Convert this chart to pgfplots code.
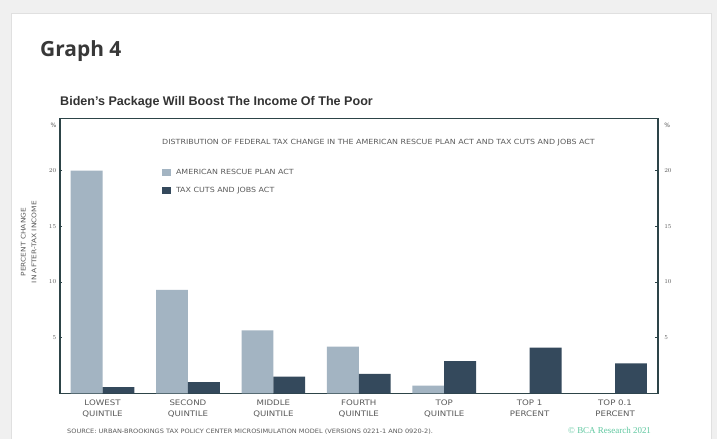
\documentclass[border=0pt]{standalone}
\usepackage{pgfplots}
\pgfplotsset{compat=1.18}
\usepackage{fontspec}
\setmainfont{Liberation Sans}
\newfontfamily\headfont{Open Sans}
\newfontfamily\smallfont{DejaVu Sans}
\newfontfamily\seriffont{Liberation Serif}
\definecolor{arp}{RGB}{163,180,194}
\definecolor{tcja}{RGB}{52,73,92}
\definecolor{axc}{RGB}{45,68,72}
\definecolor{txt}{RGB}{90,90,90}
\definecolor{bcagreen}{RGB}{95,200,160}
\newcommand{\wx}[1]{\scalebox{1.14}[1]{#1}}
\begin{document}
\begin{tikzpicture}[x=1bp,y=1bp]
\fill[black!6] (0,0) rectangle (717,439);
\fill[white] (11,0) rectangle (711,426);
\draw[black!12] (11,0) -- (11,426) -- (711,426) -- (711,0);
\node[anchor=base west, font=\headfont\bfseries\fontsize{21}{21}\selectfont, text=black!78, inner sep=0] at (40,382) {Graph 4};
\node[anchor=base west, font=\bfseries\fontsize{12.6}{12.6}\selectfont, text=black!80, inner sep=0] at (60,333) {Biden's Package Will Boost The Income Of The Poor};
\node[anchor=west, font=\smallfont\fontsize{7.1}{7.1}\selectfont, text=txt, inner sep=0] at (162,296) {\scalebox{1.12}[1]{DISTRIBUTION OF FEDERAL TAX CHANGE IN THE AMERICAN RESCUE PLAN ACT AND TAX CUTS AND JOBS ACT}};
\node[anchor=west, font=\smallfont\fontsize{6}{6}\selectfont, text=txt, inner sep=0] at (67,7) {\scalebox{1.1}[1]{SOURCE: URBAN-BROOKINGS TAX POLICY CENTER MICROSIMULATION MODEL (VERSIONS 0221-1 AND 0920-2).}};
\node[anchor=west, font=\seriffont\fontsize{9}{9}\selectfont, text=bcagreen, inner sep=0] at (568,9) {\textcopyright{} BCA Research 2021};

\begin{axis}[
  at={(70,41)}, anchor=south west, scale only axis,
  width=598bp, height=275bp,
  xmin=-0.5, xmax=6.5, ymin=0, ymax=24.7,
  axis line style={axc, line width=1.6bp},
  ybar=0pt, bar width=0.373,
  xtick={0,1,2,3,4,5,6},
  xticklabels={{\wx{LOWEST}\\\wx{QUINTILE}},{\wx{SECOND}\\\wx{QUINTILE}},{\wx{MIDDLE}\\\wx{QUINTILE}},{\wx{FOURTH}\\\wx{QUINTILE}},{\wx{TOP}\\\wx{QUINTILE}},{\wx{TOP 1}\\\wx{PERCENT}},{\wx{TOP 0.1}\\\wx{PERCENT}}},
  xticklabel style={align=center, font=\smallfont\fontsize{7.6}{11}\selectfont, text=txt, yshift=-1bp},
  x tick style={draw=none},
  ytick={5,10,15,20},
  extra y ticks={24.1}, extra y tick labels={\%},
  extra y tick style={major tick length=0pt},
  yticklabel style={font=\smallfont\fontsize{6}{6}\selectfont, text=txt},
  tick style={axc, line width=1bp},
  major tick length=2.5bp,
  ylabel={\scalebox{1.17}[1]{PERCENT CHANGE}\\\scalebox{1.17}[1]{IN AFTER-TAX INCOME}},
  ylabel style={align=center, font=\smallfont\fontsize{6.4}{10.8}\selectfont, text=txt, at={(axis description cs:-0.052,0.55)}, anchor=center},
  legend style={at={(0.1706,0.822)}, anchor=north west, draw=none, fill=none, inner sep=0pt,
     font=\smallfont\fontsize{7.1}{7.1}\selectfont, text=txt, row sep=7bp,
     nodes={inner xsep=5bp}},
  legend cell align=left,
  legend image code/.code={\fill[#1,draw=none] (0bp,-3.5bp) rectangle (9bp,3.5bp);},
]
\addplot[fill=arp, draw=none] coordinates {(0,20) (1,9.3) (2,5.65) (3,4.2) (4,0.7)};
\addplot[fill=tcja, draw=none] coordinates {(0,0.55) (1,1.0) (2,1.5) (3,1.75) (4,2.9) (5,4.1) (6,2.7)};
\legend{\scalebox{1.12}[1]{AMERICAN RESCUE PLAN ACT}, \scalebox{1.12}[1]{TAX CUTS AND JOBS ACT}}
\end{axis}
\begin{axis}[
  at={(70,41)}, anchor=south west, scale only axis,
  width=598bp, height=275bp,
  xmin=-0.5, xmax=6.5, ymin=0, ymax=24.7,
  hide x axis, axis y line*=right, y axis line style={draw=none},
  ytick={5,10,15,20},
  extra y ticks={24.1}, extra y tick labels={\%},
  major tick length=0pt,
  yticklabel style={font=\smallfont\fontsize{6}{6}\selectfont, text=txt, xshift=3bp},
]
\addplot[draw=none] coordinates {(0,0)};
\end{axis}
\end{tikzpicture}
\end{document}
